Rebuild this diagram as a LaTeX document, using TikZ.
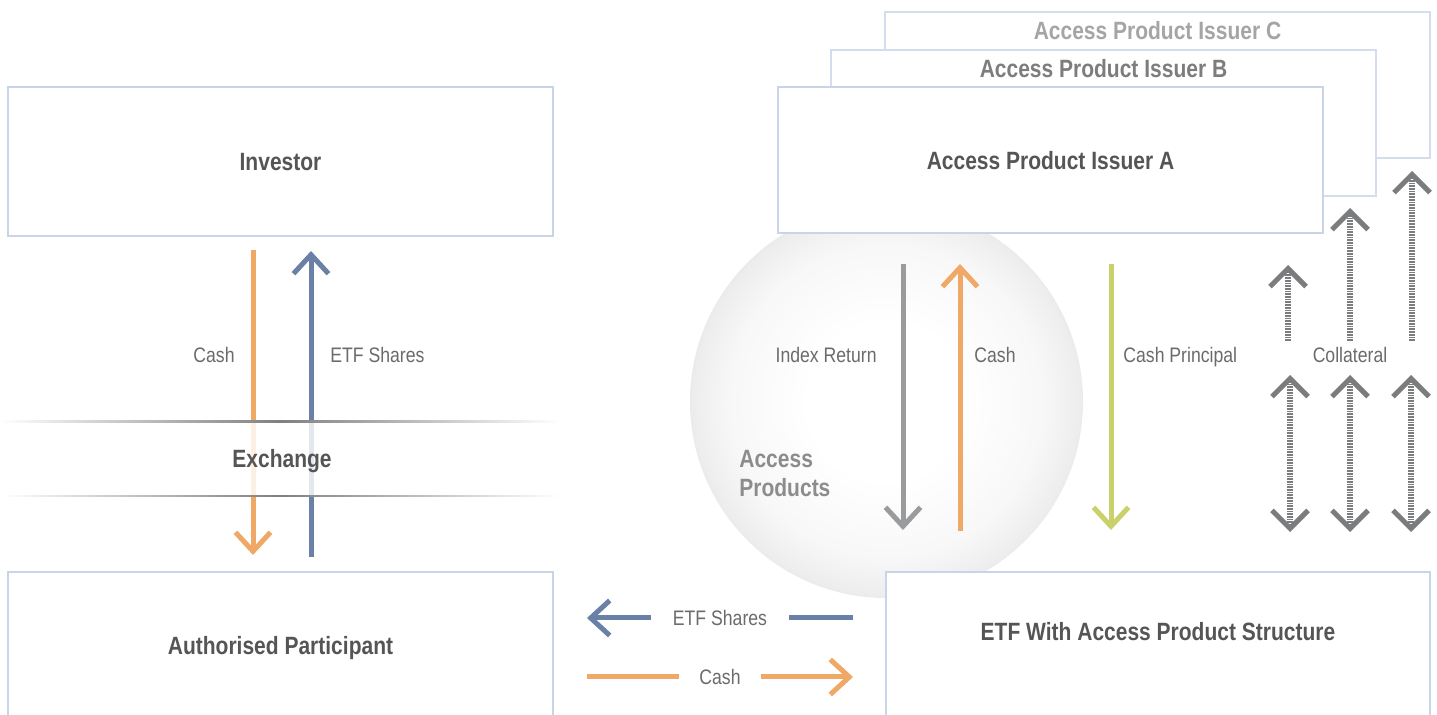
\documentclass[tikz,border=0pt]{standalone}
\usepackage{fontspec}
\setmainfont{Liberation Sans}[FakeStretch=0.84]
\usetikzlibrary{arrows.meta}
\definecolor{boxc}{HTML}{C8D5E9}
\definecolor{boxlc}{HTML}{D3DDEE}
\definecolor{orng}{HTML}{F0A866}
\definecolor{blu}{HTML}{6A80A6}
\definecolor{gry}{HTML}{9A9B9D}
\definecolor{lime}{HTML}{C9D26A}
\definecolor{coll}{HTML}{7B7C7E}
\definecolor{txt}{HTML}{6B6B6B}
\definecolor{btxt}{HTML}{555555}
\definecolor{btxtb}{HTML}{7D7D7D}
\definecolor{btxtc}{HTML}{A5A5A5}
\definecolor{aptxt}{HTML}{8C8C8C}
\pgfdeclareradialshading{sphere}{\pgfpoint{0bp}{0bp}}{color(0bp)=(white); color(10bp)=(white); color(20bp)=(black!3); color(24.5bp)=(black!7); color(25bp)=(black!8); color(50bp)=(black!8)}
\begin{document}
\begin{tikzpicture}[x=0.5pt,y=-0.5pt,
  box/.style={draw=boxc, line width=1.25pt, fill=white, inner sep=0pt},
  boxl/.style={box, draw=boxlc},
  btext/.style={font=\fontsize{12.5}{14.5}\selectfont\bfseries, text=btxt, anchor=mid, inner sep=0pt, yshift=-1.5pt},
  ltext/.style={font=\fontsize{10.5}{12.6}\selectfont, text=txt, inner sep=0pt, yshift=-1pt},
  arr/.style={line width=2.5pt, -{Straight Barb[length=9.5pt, width=17.5pt]}},
  carr/.style={coll, line width=3pt, dash pattern=on 0.85pt off 0.5pt,
    -{Straight Barb[length=9pt, width=18pt, line width=2.5pt]}},
  cdarr/.style={coll, line width=3pt, dash pattern=on 0.85pt off 0.5pt,
    {Straight Barb[length=9pt, width=18pt, line width=2.5pt]}-{Straight Barb[length=9pt, width=18pt, line width=2.5pt]}},
  exline/.style={left color=white, right color=white, middle color=black!50}]
\useasboundingbox (0,0) rectangle (1437,715);
\clip (0,0) rectangle (1437,715);
\fill[white] (0,0) rectangle (1437,715);

% sphere
\shade[shading=sphere] (886.5,401.5) circle (196.5);

% left boxes
\node[box, minimum width=272.5pt, minimum height=74.5pt] (inv) at (280.5,161.5) {};
\node[btext] (invt) at (280.5,162) {Investor};
\node[box, minimum width=272.5pt, minimum height=76pt] (ap) at (280.5,648) {};
\node[btext] (apt) at (280.5,646) {Authorised Participant};

% issuers
\node[boxl, minimum width=272.5pt, minimum height=73pt] (isc) at (1157.5,85) {};
\node[btext, text=btxtc] (isct) at (1157.5,31) {Access Product Issuer C};
\node[boxl, minimum width=272.5pt, minimum height=73pt] (isb) at (1103.5,123) {};
\node[btext, text=btxtb] (isbt) at (1103.5,69) {Access Product Issuer B};
\node[box, minimum width=272.5pt, minimum height=73pt] (isa) at (1050.5,160) {};
\node[btext] (isat) at (1050.5,161) {Access Product Issuer A};

% ETF box
\node[box, minimum width=272pt, minimum height=76pt] (etf) at (1158,648) {};
\node[btext] (etft) at (1158,632) {ETF With Access Product Structure};

% left vertical arrows
\coordinate (lc1) at (253,250); \coordinate (lc2) at (253,555);
\coordinate (lb1) at (311,557); \coordinate (lb2) at (311,251);
\draw[arr, orng] (lc1) -- (lc2);
\draw[arr, blu] (lb1) -- (lb2);
\node[ltext, anchor=mid east] (lcash) at (235,355) {Cash};
\node[ltext, anchor=mid west] (lshares) at (330,355) {ETF Shares};

% exchange band
\fill[white, opacity=0.82] (0,423) rectangle (560,495);
\shade[exline] (0,421) rectangle (560,422.5);
\shade[exline] (0,495.5) rectangle (560,497);
\node[btext] (exch) at (282,459) {Exchange};

% access products
\node[font=\fontsize{12.5}{14.5}\selectfont\bfseries, text=aptxt, align=left, anchor=north west, inner sep=0pt] (apr) at (739,450) {Access\\Products};

\coordinate (ir1) at (903,264); \coordinate (ir2) at (903,530);
\coordinate (ca1) at (960,531); \coordinate (ca2) at (960,264);
\coordinate (cp1) at (1111,264); \coordinate (cp2) at (1111,530);
\draw[arr, gry] (ir1) -- (ir2);
\draw[arr, orng] (ca1) -- (ca2);
\draw[arr, lime] (cp1) -- (cp2);
\node[ltext, anchor=mid east] (irt) at (877,355) {Index Return};
\node[ltext, anchor=mid west] (cat) at (974,355) {Cash};
\node[ltext, anchor=mid west] (cpt) at (1123,355) {Cash Principal};

% collateral
\coordinate (k1a) at (1288,341); \coordinate (k1b) at (1288,265);
\coordinate (k2a) at (1350,341); \coordinate (k2b) at (1350,208);
\coordinate (k3a) at (1412,341); \coordinate (k3b) at (1412,171);
\draw[carr] (k1a) -- (k1b);
\draw[carr] (k2a) -- (k2b);
\draw[carr] (k3a) -- (k3b);
\node[ltext, anchor=mid] (colt) at (1350,355) {Collateral};
\coordinate (m1a) at (1290,375); \coordinate (m1b) at (1290,532);
\coordinate (m2a) at (1350,375); \coordinate (m2b) at (1350,532);
\coordinate (m3a) at (1411,375); \coordinate (m3b) at (1411,532);
\draw[cdarr] (m1a) -- (m1b);
\draw[cdarr] (m2a) -- (m2b);
\draw[cdarr] (m3a) -- (m3b);

% bottom horizontal arrows
\coordinate (hb1) at (853,618); \coordinate (hb2) at (587,618);
\coordinate (ho1) at (587,677); \coordinate (ho2) at (853,677);
\draw[arr, blu] (hb1) -- node[ltext, fill=white, inner xsep=11pt, inner ysep=4pt, anchor=mid] (hbt) {ETF Shares} (hb2);
\draw[arr, orng] (ho1) -- node[ltext, fill=white, inner xsep=10pt, inner ysep=4pt, anchor=mid] (hot) {Cash} (ho2);
\end{tikzpicture}
\end{document}
